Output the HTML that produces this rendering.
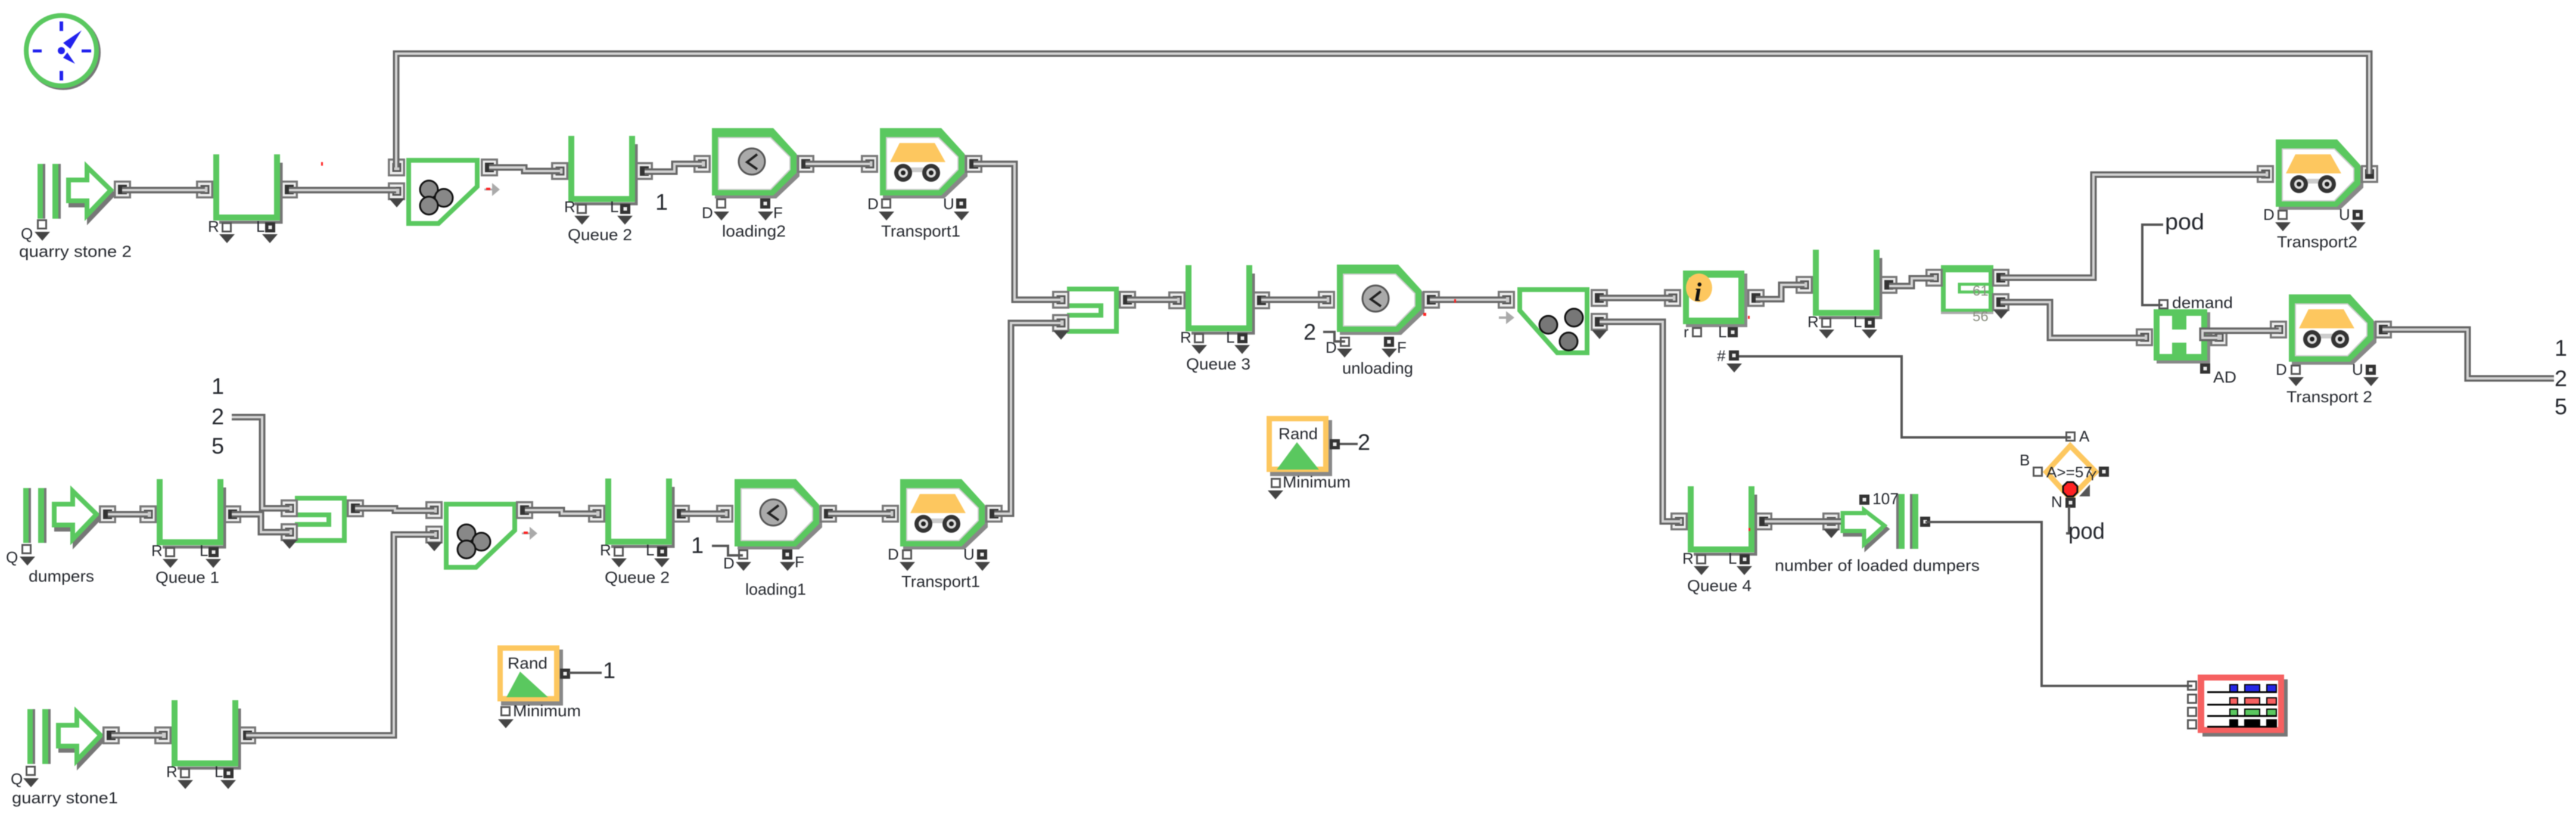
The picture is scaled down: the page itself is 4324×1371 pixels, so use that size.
<!DOCTYPE html>
<html><head><meta charset="utf-8"><title>Diagram</title>
<style>
html,body{margin:0;padding:0;background:#fff}
svg{display:block;filter:blur(.7px)}
text{font-family:"Liberation Sans",sans-serif;fill:#25282e}
.l{font-size:27px}.p{font-size:26px}.b{font-size:38px}
</style></head><body>
<svg xmlns="http://www.w3.org/2000/svg" width="4324" height="1371" viewBox="0 0 4324 1371">
<defs>
<g id="pi"><rect width="29" height="30" fill="#777"/><rect x="3.5" y="3.5" width="22" height="23" fill="#eee"/><rect x="9" y="9" width="12" height="12" fill="#ccc" stroke="#555" stroke-width="3"/></g>
<g id="po"><rect width="29" height="30" fill="#777"/><rect x="3.5" y="3.5" width="22" height="23" fill="#eee"/><rect x="7" y="7" width="15" height="16" fill="#333"/></g>
<rect id="sh" x="1.5" y="1.5" width="14" height="14" fill="#fff" stroke="#555" stroke-width="3"/>
<g id="sf"><rect width="17" height="17" fill="#333"/><rect x="5.5" y="5.5" width="6" height="6" fill="#eee"/></g>
<polygon id="ar" points="0,0 26,0 13,15" fill="#444"/>
<g id="q">
<path d="M114 14V114H10" fill="none" stroke="#777" stroke-width="5"/>
<path d="M5 0V106H107V0" fill="none" stroke="#5ac85f" stroke-width="10"/>
<use href="#pi" x="-29" y="44"/><use href="#po" x="113" y="44"/>
<use href="#sh" x="14" y="114"/><use href="#sf" x="87" y="114"/>
<use href="#ar" x="10" y="134"/><use href="#ar" x="82" y="134"/>
</g>
<g id="proc">
<polygon points="5,6 108,6 147,49 147,81 108,118 5,118" fill="#888"/>
<polygon points="0,0 103,0 142,43 142,75 103,113 0,113" fill="#5ac85f"/>
<polygon points="10,15 99,15 132,48 132,70 99,104 10,104" fill="#ccc"/>
<polygon points="12,17 98,17 130,49 130,69 98,102 12,102" fill="#fff"/>
<use href="#sf" x="0" y="0" opacity="0"/>
</g>
<g id="clk"><circle r="22" fill="#aaa" stroke="#555" stroke-width="3"/><path d="M9-12L-8 1L9 13" fill="none" stroke="#222" stroke-width="4"/></g>
<g id="truck">
<polygon points="33,25 92,25 110,57 17,57" fill="#fdc75f"/>
<rect x="30" y="66" width="70" height="8" fill="#ccc"/>
<g id="wh"><circle cx="39" cy="75" r="15" fill="#333"/><circle cx="39" cy="75" r="8" fill="#ddd"/><circle cx="39" cy="75" r="4" fill="#222"/></g>
<circle cx="86" cy="75" r="15" fill="#333"/><circle cx="86" cy="75" r="8" fill="#ddd"/><circle cx="86" cy="75" r="4" fill="#222"/>
</g>
<g id="src">
<rect x="0" y="0" width="13" height="92" fill="#5ac85f"/><rect x="9" y="0" width="4" height="92" fill="#777"/>
<rect x="25" y="0" width="14" height="92" fill="#5ac85f"/><rect x="35" y="0" width="4" height="92" fill="#777"/>
<polygon transform="translate(4,7)" points="52,27 83,27 83,5 123,44 83,86 83,62 52,62" fill="none" stroke="#777" stroke-width="8"/>
<polygon points="52,27 83,27 83,5 123,44 83,86 83,62 52,62" fill="#fff" stroke="#5ac85f" stroke-width="8"/>
</g>
<g id="balls" fill="#888" stroke="#111" stroke-width="3"><circle cx="720" cy="318" r="15"/><circle cx="745" cy="332" r="15"/><circle cx="720" cy="345" r="15"/></g>
<g id="comb">
<polygon points="686,269 801,269 801,313 736,375 686,375" fill="#fff" stroke="#5ac85f" stroke-width="8"/>
<use href="#balls"/>
<path d="M813 318H827" stroke="#aaa" stroke-width="3"/><polygon points="826,307 839,318 826,329" fill="#aaa"/>
<rect x="816" y="315" width="7" height="4" fill="#f22"/>
</g>
<g id="merge" fill="none" stroke="#5ac85f" stroke-width="8"><path d="M495 836H578V907H495"/><path d="M495 864H552V880H495"/></g>
<g id="rand">
<rect x="6" y="7" width="104" height="94" fill="#888"/>
<rect x="4.5" y="4.5" width="95" height="85" fill="#fff" stroke="#fdc75f" stroke-width="9"/>
</g>
<g id="wires" fill="none">
<path d="M205 319H344"/><path d="M485 319H665"/><path d="M665 281V90H3977V292"/>
<path d="M821 281H880V287H940"/><path d="M1082 288H1132V275H1178"/><path d="M1352 275H1460"/>
<path d="M1634 275H1703V503H1780"/><path d="M1669 862H1697V542H1780"/><path d="M1892 503H1976"/>
<path d="M2117 503H2227"/><path d="M2400 503H2528"/><path d="M2685 500H2808"/>
<path d="M2685 540H2791V875H2820"/><path d="M2947 502H2990V478H3029"/><path d="M3171 480H3209V467H3246"/>
<path d="M3358 466H3514V293H3803"/><path d="M3358 507H3441V567H3600"/><path d="M3722 567H3697V555H3825"/>
<path d="M3999 553H4142V635H4287"/><path d="M2962 875H3090"/>
<path d="M181 863H248"/><path d="M389 863H438V893H486"/><path d="M389 700H440V853H486"/>
<path d="M596 853H663V857H729"/><path d="M881 856H943V862H1001"/><path d="M1143 862H1217"/><path d="M1390 862H1495"/>
<path d="M187 1234H272"/><path d="M413 1234H661V897H729"/>
</g>
</defs>

<!-- clock -->
<circle cx="106" cy="88" r="59" fill="none" stroke="#777" stroke-width="8"/>
<circle cx="103" cy="85" r="59" fill="#fff" stroke="#5ac85f" stroke-width="8"/>
<g fill="#2222ee">
<rect x="100" y="36" width="6" height="16"/><rect x="100" y="119" width="6" height="16"/><rect x="55" y="83" width="15" height="5"/><rect x="137" y="83" width="16" height="5"/>
<circle cx="103" cy="85" r="6"/><polygon points="137,51 118,82 106,72"/><polygon points="126,107 106,97 113,88"/>
</g>

<!-- sources -->
<use href="#src" x="63" y="275"/><use href="#po" x="191" y="303"/><use href="#sh" x="62" y="368"/><use href="#ar" x="58" y="389"/>
<use href="#src" x="39" y="819"/><use href="#po" x="166" y="848"/><use href="#sh" x="36" y="913"/><use href="#ar" x="33" y="934"/>
<use href="#src" x="46" y="1190"/><use href="#po" x="172" y="1219"/><use href="#sh" x="43" y="1285"/><use href="#ar" x="39" y="1306"/>

<!-- queues -->
<use href="#q" x="358" y="259"/><use href="#q" x="954" y="228"/><use href="#q" x="1990" y="445"/>
<use href="#q" x="3043" y="419"/><use href="#q" x="2833" y="816"/><use href="#q" x="263" y="804"/>
<use href="#q" x="288" y="1175"/><use href="#q" x="1016" y="803"/>

<!-- combines -->
<use href="#comb"/><use href="#pi" x="651" y="266"/><use href="#pi" x="651" y="306"/><use href="#ar" x="653" y="333"/><use href="#po" x="807" y="266"/>
<use href="#comb" x="63" y="577"/><use href="#pi" x="714" y="841"/><use href="#pi" x="714" y="882"/><use href="#ar" x="716" y="910"/><use href="#po" x="866" y="841"/>

<!-- merges -->
<use href="#merge"/><use href="#pi" x="471" y="838"/><use href="#pi" x="471" y="878"/><use href="#ar" x="473" y="906"/><use href="#po" x="582" y="838"/>
<use href="#merge" x="1296" y="-351"/><use href="#pi" x="1766" y="488"/><use href="#pi" x="1766" y="527"/><use href="#ar" x="1768" y="555"/><use href="#po" x="1878" y="488"/>

<!-- processes top row -->
<use href="#proc" x="1195" y="215"/><use href="#clk" x="1262" y="271"/><use href="#pi" x="1164" y="260"/><use href="#po" x="1338" y="260"/>
<use href="#sh" x="1202" y="333"/><use href="#sf" x="1276" y="333"/><use href="#ar" x="1198" y="355"/><use href="#ar" x="1272" y="355"/>
<use href="#proc" x="1477" y="215"/><use href="#truck" x="1477" y="215"/><use href="#pi" x="1445" y="260"/><use href="#po" x="1620" y="260"/>
<use href="#sh" x="1479" y="333"/><use href="#sf" x="1605" y="333"/><use href="#ar" x="1475" y="355"/><use href="#ar" x="1601" y="355"/>

<!-- processes lower row -->
<use href="#proc" x="1233" y="804"/><use href="#clk" x="1298" y="860"/><use href="#pi" x="1202" y="847"/><use href="#po" x="1376" y="847"/>
<use href="#sh" x="1239" y="922"/><use href="#sf" x="1313" y="922"/><use href="#ar" x="1235" y="943"/><use href="#ar" x="1309" y="943"/>
<use href="#proc" x="1511" y="804"/><use href="#truck" x="1511" y="804"/><use href="#pi" x="1480" y="847"/><use href="#po" x="1654" y="847"/>
<use href="#sh" x="1514" y="922"/><use href="#sf" x="1640" y="922"/><use href="#ar" x="1510" y="943"/><use href="#ar" x="1636" y="943"/>

<!-- unloading -->
<use href="#proc" x="2244" y="444"/><use href="#clk" x="2309" y="501"/><use href="#pi" x="2212" y="488"/><use href="#po" x="2388" y="488"/>
<use href="#sh" x="2249" y="565"/><use href="#sf" x="2323" y="565"/><use href="#ar" x="2244" y="585"/><use href="#ar" x="2319" y="585"/>

<!-- unbatch -->
<polygon points="2551,486 2664,486 2664,592 2614,592 2551,521" fill="#fff" stroke="#5ac85f" stroke-width="8"/>
<g fill="#777" stroke="#111" stroke-width="3"><circle cx="2642" cy="533" r="15"/><circle cx="2599" cy="545" r="15"/><circle cx="2633" cy="573" r="15"/></g>
<use href="#pi" x="2514" y="488"/><use href="#po" x="2670" y="485"/><use href="#po" x="2670" y="525"/><use href="#ar" x="2672" y="554"/>
<path d="M2516 533H2530" stroke="#aaa" stroke-width="4"/><polygon points="2528,522 2542,533 2528,544" fill="#aaa"/>

<!-- info -->
<rect x="2830" y="459" width="103" height="90" fill="#888"/>
<rect x="2825" y="454" width="103" height="90" fill="#5ac85f"/><rect x="2835" y="466" width="83" height="67" fill="#fff"/>
<ellipse cx="2852" cy="483" rx="22" ry="24" fill="#fdc75f"/>
<text x="2844" y="505" font-size="44" font-weight="bold" font-style="italic" style="font-family:'Liberation Serif',serif;fill:#111">i</text>
<use href="#pi" x="2793" y="485"/><use href="#po" x="2933" y="485"/>
<use href="#sh" x="2840" y="549"/><use href="#sf" x="2900" y="549"/>
<use href="#sf" x="2902" y="588"/><use href="#ar" x="2898" y="610"/>

<!-- select -->
<rect x="3262" y="450" width="80" height="72" fill="#fff" stroke="#5ac85f" stroke-width="8"/><rect x="3258" y="445" width="88" height="12" fill="#5ac85f"/>
<rect x="3258" y="523" width="88" height="4" fill="#aaa"/>
<path d="M3342 477H3289V490H3342" fill="none" stroke="#5ac85f" stroke-width="5"/>
<use href="#pi" x="3232" y="451"/><use href="#po" x="3344" y="451"/><use href="#po" x="3344" y="492"/><use href="#ar" x="3346" y="520"/>

<!-- activate -->
<rect x="3620" y="524" width="90" height="86" fill="#888"/>
<rect x="3615" y="519" width="90" height="86" fill="#5ac85f"/><rect x="3625" y="530" width="70" height="64" fill="#fff"/>
<rect x="3646" y="530" width="24" height="23" fill="#5ac85f"/><rect x="3646" y="575" width="24" height="20" fill="#5ac85f"/>
<use href="#pi" x="3585" y="551"/><use href="#pi" x="3710" y="551"/><use href="#sh" x="3623" y="502"/><use href="#sf" x="3693" y="610"/>

<!-- transport 2 x2 -->
<use href="#proc" x="3820" y="234"/><use href="#truck" x="3820" y="234"/><use href="#pi" x="3788" y="277"/><use href="#po" x="3963" y="277"/>
<use href="#sh" x="3823" y="352"/><use href="#sf" x="3949" y="352"/><use href="#ar" x="3819" y="373"/><use href="#ar" x="3945" y="373"/>
<use href="#proc" x="3842" y="494"/><use href="#truck" x="3842" y="494"/><use href="#pi" x="3810" y="538"/><use href="#po" x="3986" y="538"/>
<use href="#sh" x="3845" y="612"/><use href="#sf" x="3971" y="612"/><use href="#ar" x="3841" y="633"/><use href="#ar" x="3967" y="633"/>

<!-- exit -->
<polygon transform="translate(4,6)" points="3093,861 3129,861 3129,856 3163,882 3129,913 3129,891 3093,891" fill="none" stroke="#777" stroke-width="7"/>
<polygon points="3093,861 3129,861 3129,856 3163,882 3129,913 3129,891 3093,891" fill="#fff" stroke="#5ac85f" stroke-width="7"/>
<rect x="3183" y="829" width="14" height="92" fill="#5ac85f"/><rect x="3183" y="829" width="4" height="92" fill="#777"/>
<rect x="3206" y="829" width="14" height="92" fill="#5ac85f"/><rect x="3206" y="829" width="4" height="92" fill="#777"/>
<use href="#pi" x="3059" y="860"/><use href="#ar" x="3061" y="888"/><use href="#sf" x="3223" y="867"/><use href="#sf" x="3121" y="830"/>

<!-- rand -->
<use href="#rand" x="2126" y="698"/><polygon points="2177,742 2214,788 2143,788" fill="#5ac85f"/>
<use href="#sf" x="2232" y="737"/><use href="#sh" x="2133" y="802"/><use href="#ar" x="2128" y="823"/>
<use href="#rand" x="835" y="1083"/><polygon points="873,1127 920,1170 850,1170" fill="#5ac85f"/>
<use href="#sf" x="940" y="1122"/><use href="#sh" x="840" y="1185"/><use href="#ar" x="836" y="1207"/>

<!-- decision -->
<polygon points="3475,748 3518,792 3475,836 3435,792" fill="#fff" stroke="#fdc75f" stroke-width="9"/>
<polygon points="3508,813 3508,833 3490,833" fill="#555"/>
<use href="#sh" x="3467" y="724"/><use href="#sh" x="3412" y="783"/><use href="#sf" x="3523" y="783"/><use href="#sf" x="3467" y="835"/>
<polygon points="3470,809 3480,809 3487,816 3487,826 3480,833 3470,833 3463,826 3463,816" fill="#f22" stroke="#111" stroke-width="3"/>

<!-- table -->
<rect x="3697" y="1140" width="143" height="96" fill="#777"/>
<rect x="3689" y="1132" width="145" height="98" fill="#f66060"/>
<rect x="3700" y="1142" width="124" height="78" fill="#fff"/>
<g fill="#000"><rect x="3705" y="1160" width="117" height="3"/><rect x="3705" y="1181" width="117" height="3"/><rect x="3705" y="1200" width="117" height="3"/><rect x="3705" y="1218" width="117" height="3"/></g>
<g fill="#2626e6" stroke="#000" stroke-width="2"><rect x="3743" y="1149" width="13" height="12"/><rect x="3768" y="1149" width="25" height="12"/><rect x="3805" y="1149" width="16" height="12"/></g>
<g fill="#f66060" stroke="#000" stroke-width="2"><rect x="3743" y="1171" width="13" height="11"/><rect x="3768" y="1171" width="25" height="11"/><rect x="3805" y="1171" width="16" height="11"/></g>
<g fill="#5ac85f" stroke="#000" stroke-width="2"><rect x="3743" y="1190" width="13" height="11"/><rect x="3768" y="1190" width="25" height="11"/><rect x="3805" y="1190" width="16" height="11"/></g>
<g fill="#000"><rect x="3742" y="1207" width="15" height="13"/><rect x="3767" y="1207" width="27" height="13"/><rect x="3804" y="1207" width="18" height="13"/></g>
<use href="#sh" x="3671" y="1142"/><use href="#sh" x="3671" y="1164"/><use href="#sh" x="3671" y="1186"/><use href="#sh" x="3671" y="1207"/>

<!-- wires -->
<use href="#wires" stroke="#666" stroke-width="11"/>
<use href="#wires" stroke="#d4d4d4" stroke-width="4"/>
<g fill="none" stroke="#555" stroke-width="4">
<path d="M2919 598H3192V734H3476"/><path d="M3631 377H3596V512H3630"/><path d="M3232 876H3427V1151H3680"/>
<path d="M2249 745H2279"/><path d="M955 1129H1010"/><path d="M2221 557H2240V573H2258"/><path d="M1195 916H1222V932H1247"/>
<path d="M3473 850V895H3468"/>
</g>

<!-- red specks -->
<g fill="#f22"><rect x="539" y="272" width="3" height="6"/><rect x="2441" y="502" width="3" height="6"/><rect x="2389" y="525" width="5" height="5"/><rect x="2934" y="530" width="3" height="5"/><rect x="2935" y="886" width="3" height="5"/></g>

<!-- labels -->
<g class="l">
<text class="l" x="32" y="431" textLength="189" lengthAdjust="spacingAndGlyphs">quarry stone 2</text>
<text class="l" x="953" y="403" textLength="108" lengthAdjust="spacingAndGlyphs">Queue 2</text>
<text class="l" x="1212" y="397" textLength="107" lengthAdjust="spacingAndGlyphs">loading2</text>
<text class="l" x="1479" y="397" textLength="133" lengthAdjust="spacingAndGlyphs">Transport1</text>
<text class="l" x="261" y="978" textLength="107" lengthAdjust="spacingAndGlyphs">Queue 1</text>
<text class="l" x="48" y="976" textLength="110" lengthAdjust="spacingAndGlyphs">dumpers</text>
<text class="l" x="20" y="1348" textLength="178" lengthAdjust="spacingAndGlyphs">guarry stone1</text>
<text class="l" x="861" y="1202" textLength="114" lengthAdjust="spacingAndGlyphs">Minimum</text>
<text class="l" x="852" y="1122" textLength="67" lengthAdjust="spacingAndGlyphs">Rand</text>
<text class="l" x="1015" y="978" textLength="109" lengthAdjust="spacingAndGlyphs">Queue 2</text>
<text class="l" x="1251" y="998" textLength="102" lengthAdjust="spacingAndGlyphs">loading1</text>
<text class="l" x="1513" y="985" textLength="132" lengthAdjust="spacingAndGlyphs">Transport1</text>
<text class="l" x="1991" y="620" textLength="108" lengthAdjust="spacingAndGlyphs">Queue 3</text>
<text class="l" x="2253" y="627" textLength="119" lengthAdjust="spacingAndGlyphs">unloading</text>
<text class="l" x="2153" y="818" textLength="114" lengthAdjust="spacingAndGlyphs">Minimum</text>
<text class="l" x="2146" y="737" textLength="66" lengthAdjust="spacingAndGlyphs">Rand</text>
<text class="l" x="2832" y="992" textLength="108" lengthAdjust="spacingAndGlyphs">Queue 4</text>
<text class="l" x="2979" y="958" textLength="344" lengthAdjust="spacingAndGlyphs">number of loaded dumpers</text>
<text class="l" x="3822" y="415" textLength="135" lengthAdjust="spacingAndGlyphs">Transport2</text>
<text class="l" x="3838" y="675" textLength="144" lengthAdjust="spacingAndGlyphs">Transport 2</text>
<text class="l" x="3646" y="517" textLength="102" lengthAdjust="spacingAndGlyphs">demand</text>
<text class="l" x="3715" y="642" textLength="39" lengthAdjust="spacingAndGlyphs">AD</text>
<text class="l" x="3143" y="846" textLength="44" lengthAdjust="spacingAndGlyphs">107</text>
<text x="3435" y="801" font-size="25" textLength="77" lengthAdjust="spacingAndGlyphs">A&gt;=57</text>
<text x="3505" y="806" font-size="22">Y</text>
<text x="3311" y="496" font-size="24" style="fill:#8a8f80">61</text>
<text x="3311" y="539" font-size="24" style="fill:#8a8f80">56</text>
</g>
<g>
<text class="p" x="35" y="401">Q</text><text class="p" x="10" y="944">Q</text><text class="p" x="18" y="1316">Q</text>
<text class="p" x="349" y="389">R</text><text class="p" x="430" y="389">L</text>
<text class="p" x="947" y="356">R</text><text class="p" x="1024" y="356">L</text>
<text class="p" x="1178" y="366">D</text><text class="p" x="1298" y="366">F</text>
<text class="p" x="1456" y="351">D</text><text class="p" x="1583" y="351">U</text>
<text class="p" x="254" y="933">R</text><text class="p" x="335" y="933">L</text>
<text class="p" x="279" y="1304">R</text><text class="p" x="360" y="1304">L</text>
<text class="p" x="1007" y="932">R</text><text class="p" x="1084" y="932">L</text>
<text class="p" x="1214" y="954">D</text><text class="p" x="1334" y="952">F</text>
<text class="p" x="1490" y="939">D</text><text class="p" x="1617" y="939">U</text>
<text class="p" x="1981" y="575">R</text><text class="p" x="2058" y="575">L</text>
<text class="p" x="2225" y="592">D</text><text class="p" x="2345" y="592">F</text>
<text class="p" x="2826" y="566">r</text><text class="p" x="2884" y="566">L</text>
<text class="p" x="2882" y="606">#</text>
<text class="p" x="3034" y="549">R</text><text class="p" x="3111" y="549">L</text>
<text class="p" x="2824" y="946">R</text><text class="p" x="2901" y="946">L</text>
<text class="p" x="3799" y="369">D</text><text class="p" x="3926" y="369">U</text>
<text class="p" x="3820" y="629">D</text><text class="p" x="3948" y="629">U</text>
<text class="p" x="3490" y="741">A</text><text class="p" x="3390" y="781">B</text><text class="p" x="3443" y="851">N</text>
</g>
<g class="b">
<text class="b" x="1100" y="352">1</text>
<text class="b" x="355" y="661">1</text><text class="b" x="355" y="712">2</text><text class="b" x="355" y="761">5</text>
<text class="b" x="1012" y="1138">1</text><text class="b" x="1160" y="928">1</text>
<text class="b" x="2188" y="570">2</text><text class="b" x="2279" y="755">2</text>
<text class="b" x="4288" y="597">1</text><text class="b" x="4288" y="648">2</text><text class="b" x="4288" y="695">5</text>
<text class="b" x="3634" y="385" textLength="66" lengthAdjust="spacingAndGlyphs">pod</text>
<text class="b" x="3472" y="904" textLength="61" lengthAdjust="spacingAndGlyphs">pod</text>
</g>
</svg>
</body></html>
